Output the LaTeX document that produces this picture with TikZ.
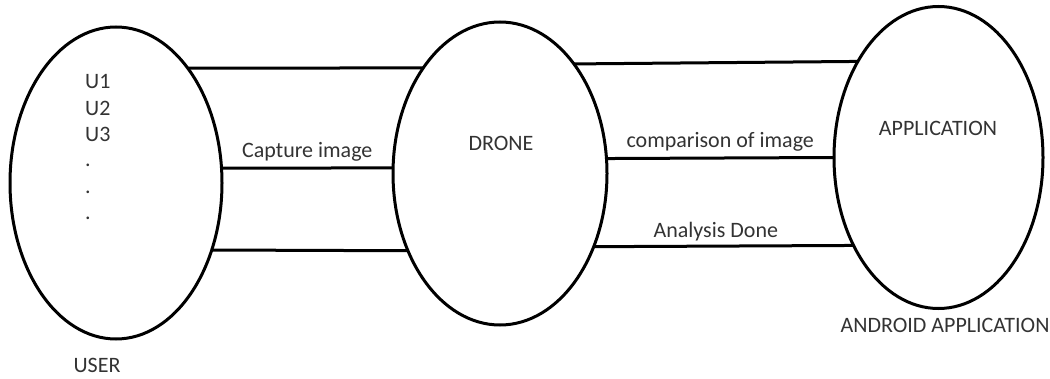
\documentclass[tikz,border=0pt]{standalone}
\usepackage{fontspec}
\setmainfont{Carlito}
\usetikzlibrary{shapes.geometric}
\definecolor{ink}{HTML}{333333}
\begin{document}
\begin{tikzpicture}[x=1pt,y=1pt,
  entity/.style={ellipse, draw=black, line width=3pt, inner sep=0pt, outer sep=0pt},
  link/.style={draw=black, line width=3pt},
  lbl/.style={text=ink, font=\fontsize{22}{26}\selectfont, inner sep=0pt},
  linklbl/.style={lbl, above, midway, yshift=5pt}]
\useasboundingbox (0,0) rectangle (1050,378);

% the three entities
\node[entity, minimum width=212pt, minimum height=312pt] (user) at (116,195) {};
\node[entity, minimum width=214pt, minimum height=303pt] (drone) at (500,204.5) {};
\node[entity, minimum width=209pt, minimum height=302pt] (app) at (938.5,220.5) {};

% entity captions
\node[lbl] (droneName) at (501,235) {DRONE};
\node[lbl] (appName) at (938,250) {APPLICATION};
\node[lbl] (userName) at (97,13) {USER};
\node[lbl] (androidName) at (945,53) {ANDROID APPLICATION};

% list of users
\foreach \t/\yy [count=\i] in {U1/289, U2/262, U3/236, ./211.5, ./184.5, ./158.5}
  \node[lbl, anchor=base west] (u\i) at (85,\yy) {\t};

% user -- drone connectors
\draw[link] (user.58.1) -- (drone.126.1);
\draw[link] (user.8.1) -- node[linklbl] (capture) {Capture image} (drone.177.05);
\draw[link] (user.-35.5) -- (drone.220.1);

% drone -- application connectors
\draw[link] (drone.56.5) -- (app.130.8);
\draw[link] (drone.8.8) -- node[linklbl] (compare) {comparison of image} (app.180);
\draw[link] (drone.-38.1) -- node[linklbl, pos=0.47, yshift=-1pt] (analysis) {Analysis Done} (app.226.7);
\end{tikzpicture}
\end{document}
